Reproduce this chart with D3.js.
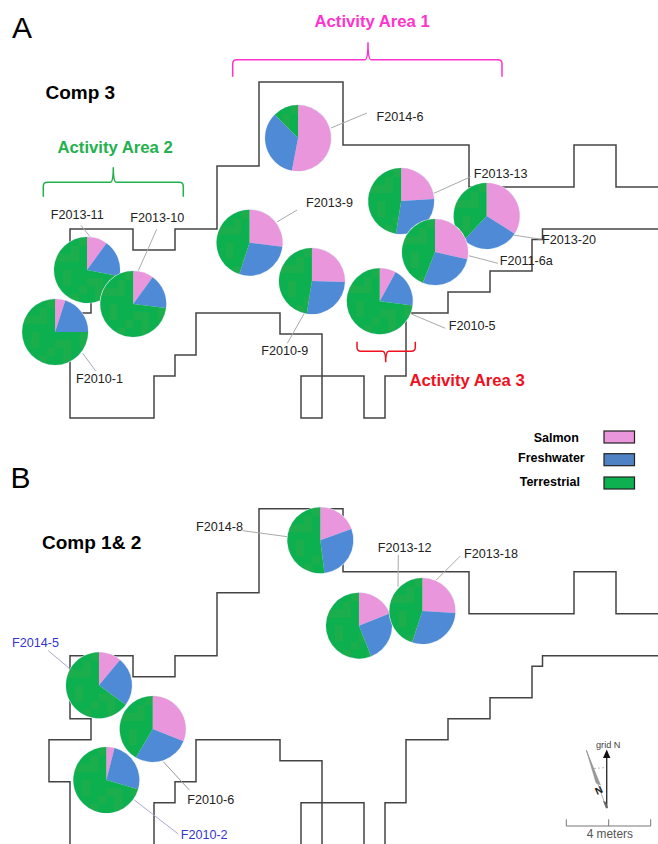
<!DOCTYPE html>
<html>
<head>
<meta charset="utf-8">
<script src="https://cdn.jsdelivr.net/npm/d3@7"></script>
<style>
    html, body { margin: 0; padding: 0; background: #fff; }
    svg { display: block; }
    text { font-family: "Liberation Sans", Arial, sans-serif; }
</style>
</head>
<body>
<div id="chart"></div>
<script>
// diet fractions per feature (percent)
var categories = ['Salmon', 'Freshwater', 'Terrestrial'];

var sitesA = ['F2013-11', 'F2013-10', 'F2010-1', 'F2014-6', 'F2013-9', 'F2010-9', 'F2013-13', 'F2013-20', 'F2011-6a', 'F2010-5'];
var salmonA = [10, 10, 5, 53, 27, 25.5, 24, 34, 28.5, 8];
var freshA = [18, 17, 20, 34.5, 28, 27, 28.5, 28, 27.5, 19];
var terrA = [72, 73, 75, 12.5, 45, 47.5, 47.5, 38, 44, 73];
// feature location on the excavation grid, metres
var gridXA = [0.81, 3.01, -0.71, 10.86, 8.55, 11.52, 15.77, 19.84, 17.38, 14.75];
var gridYA = [1.95, 3.57, 4.90, -4.33, 0.65, 2.48, -1.33, -0.62, 1.10, 3.44];

var sitesB = ['F2014-8', 'F2013-12', 'F2013-18', 'F2014-5', 'F2010-6', 'F2010-2'];
var salmonB = [19.5, 19, 26, 11, 31, 4];
var freshB = [28.5, 25, 29, 24, 27.5, 25.5];
var terrB = [52, 56, 45, 65, 41.5, 70.5];
var gridXB = [11.92, 13.76, 16.78, 1.38, 3.94, 1.73];
var gridYB = [-5.5, -1.43, -2.13, 1.41, 3.49, 5.92];

// house outline in grid metres
var wallX = [28, 26, 26, 24, 24, 19, 19, 13, 13, 9, 9, 7, 7, 5, 5, 3, 3, 0, 0, 1, 1, -1, -1, 0, 0, 4, 4, 5, 5, 6, 6, 10, 10, 12, 12, 11, 11, 14, 14, 15, 15, 16, 16, 18, 18, 20, 20, 22, 22, 22.5, 22.5, 28];
var wallY = [-2, -2, -4, -4, -2, -2, -4, -4, -7, -7, -3, -3, 0, 0, 1, 1, 0, 0, 3, 3, 4, 4, 6, 6, 9, 9, 7, 7, 6, 6, 4, 4, 5, 5, 9, 9, 7, 7, 9, 9, 7, 7, 4, 4, 3, 3, 2, 2, 0.5, 0.5, 0, 0];

var width = 658, height = 844;
var pieR = 33;
var panelShift = 426.7;

var colors = d3.scaleOrdinal().domain(categories).range(['#ea96dc', '#4f8ad6', 'url(#mottle)']);
var swatch = d3.scaleOrdinal().domain(categories).range(['#ea96dc', '#4f82c4', '#0db14f']);

var x = d3.scaleLinear().domain([0, 28]).range([70, 658]);
var y = d3.scaleLinear().domain([0, 9]).range([229, 418]);

var svg = d3.select('#chart').append('svg')
    .attr('width', width)
    .attr('height', height)
    .attr('viewBox', '0 0 ' + width + ' ' + height);

// blocky green left over from the jpeg of the original
var defs = svg.append('defs');
var mottle = defs.append('pattern')
    .attr('id', 'mottle')
    .attr('patternUnits', 'userSpaceOnUse')
    .attr('width', 48).attr('height', 48);
mottle.append('rect').attr('width', 48).attr('height', 48).attr('fill', '#0cb04e');
[[0, 8, 16, 8], [8, 16, 8, 16], [24, 0, 8, 16], [16, 32, 24, 8], [40, 16, 8, 8], [32, 24, 8, 8], [0, 40, 8, 8]].forEach(function (b) {
    mottle.append('rect')
        .attr('x', b[0]).attr('y', b[1])
        .attr('width', b[2]).attr('height', b[3])
        .attr('fill', '#1cad4c');
});

// Draw the stepped outline of the house
function addWall(parent, shift) {
    var line = d3.line()
        .x(function (d) { return x(d[0]); })
        .y(function (d) { return y(d[1]) + shift; })
        .curve(d3.curveLinear);
    parent.append('path')
        .attr('d', line(d3.zip(wallX, wallY)))
        .attr('fill', 'none')
        .attr('stroke', '#444')
        .attr('stroke-width', 1.5);
}

// One pie per feature, 12 o'clock start, no sorting
function addPies(parent, shift, sites, salmon, fresh, terr, gridX, gridY) {
    var pie = d3.pie().sort(null).value(function (d) { return d.value; });
    var arc = d3.arc().innerRadius(0).outerRadius(pieR);
    sites.forEach(function (name, i) {
        var parts = [
            { key: categories[0], value: salmon[i] },
            { key: categories[1], value: fresh[i] },
            { key: categories[2], value: terr[i] }
        ];
        var g = parent.append('g')
            .attr('class', 'pie')
            .attr('transform', 'translate(' + x(gridX[i]) + ',' + (y(gridY[i]) + shift) + ')');
        g.append('circle').attr('r', pieR + 0.6).attr('fill', '#e4ecf6');
        g.selectAll('path')
            .data(pie(parts))
            .enter().append('path')
            .attr('d', arc)
            .attr('fill', function (d) { return colors(d.data.key); });
    });
}

// Label with its thin leader line
function addLabel(name, lx, ly, leader, color, lineColor) {
    svg.append('line')
        .attr('x1', leader[0]).attr('y1', leader[1])
        .attr('x2', leader[2]).attr('y2', leader[3])
        .attr('stroke', lineColor || '#aaa')
        .attr('stroke-width', 1);
    svg.append('text')
        .attr('x', lx).attr('y', ly)
        .attr('font-size', 12.6)
        .attr('fill', color || '#222')
        .text(name);
}

// Curly bracket, rounded ends and a small tip in the middle
function addBrace(x0, x1, xm, yEnd, yLine, yTip, color) {
    var s = yEnd < yLine ? -1 : 1;
    var p = d3.path();
    p.moveTo(x0, yEnd);
    p.lineTo(x0, yLine + s * 4);
    p.quadraticCurveTo(x0, yLine, x0 + 4, yLine);
    p.lineTo(xm - 3, yLine);
    p.quadraticCurveTo(xm, yLine, xm, yTip);
    p.quadraticCurveTo(xm, yLine, xm + 3, yLine);
    p.lineTo(x1 - 4, yLine);
    p.quadraticCurveTo(x1, yLine, x1, yLine + s * 4);
    p.lineTo(x1, yEnd);
    svg.append('path')
        .attr('d', p.toString())
        .attr('fill', 'none')
        .attr('stroke', color)
        .attr('stroke-width', 1.5);
}

function addTitle(str, tx, ty, size, color, weight) {
    svg.append('text')
        .attr('x', tx).attr('y', ty)
        .attr('font-size', size)
        .attr('font-weight', weight || 'bold')
        .attr('fill', color || '#000')
        .text(str);
}

addWall(svg, 0);
addWall(svg, panelShift);

// leaders first, the pies sit on top of them
addLabel('F2014-6', 376.5, 120.5, [331, 128, 367, 113]);
addLabel('F2013-9', 306, 207, [277, 222, 297, 210]);
addLabel('F2013-13', 473.7, 177.5, [434, 193.3, 470.7, 176.7]);
addLabel('F2013-20', 542, 244, [513, 235, 541.3, 239.3]);
addLabel('F2011-6a', 499.7, 265, [468.7, 255.7, 498, 263.3]);
addLabel('F2010-5', 448.7, 330, [411.3, 314, 445.3, 328.3]);
addLabel('F2010-9', 261.3, 355.3, [304.3, 313.3, 287.3, 343.3]);
addLabel('F2013-11', 50.7, 219.3, [81, 225.3, 90, 236.7]);
addLabel('F2013-10', 130.3, 222, [156.7, 229.3, 138.3, 270.7]);
addLabel('F2010-1', 76, 383, [82.7, 353.3, 95.7, 371], '#222', '#a8a8c0');

addLabel('F2014-8', 196, 531.3, [242.7, 530.7, 287.3, 536.7]);
addLabel('F2013-12', 377.7, 552, [398.3, 555, 398, 586.7]);
addLabel('F2013-18', 464, 558.3, [460.3, 556, 436.3, 580]);
addLabel('F2014-5', 12, 647.3, [48.3, 650.7, 69.3, 668.3], '#3535cf', '#a8a8d0');
addLabel('F2010-6', 187.3, 804, [163.3, 761.7, 189.3, 790], '#222', '#999');
addLabel('F2010-2', 180.7, 839.3, [134.3, 800, 178.3, 834], '#3535cf', '#a8a8d8');

addPies(svg, 0, sitesA, salmonA, freshA, terrA, gridXA, gridYA);
addPies(svg, panelShift, sitesB, salmonB, freshB, terrB, gridXB, gridYB);

addTitle('A', 12, 37.7, 30, '#000', 'normal');
addTitle('B', 10.5, 488, 30, '#000', 'normal');
addTitle('Comp 3', 45.5, 99, 19);
addTitle('Comp 1& 2', 42, 549.3, 19);

addTitle('Activity Area 1', 314.5, 27, 16.7, '#ff33cc');
addTitle('Activity Area 2', 57.5, 153.3, 16.7, '#22b14c');
addTitle('Activity Area 3', 409.5, 385.7, 16.7, '#f01020');

addBrace(232.7, 502, 368, 76.7, 59.7, 42.3, '#ff33cc');
addBrace(43.3, 183.3, 113.3, 196.7, 182.3, 167.3, '#22b14c');
addBrace(357, 415.3, 385.7, 341.7, 351.3, 362.3, '#f01020');

// legend
var legendTextX = [533.7, 518, 519.7];
var legendTextY = [442.3, 462.3, 486];
var legendBoxY = [431, 453.7, 477];
categories.forEach(function (c, i) {
    addTitle(c, legendTextX[i], legendTextY[i], 12.5);
    svg.append('rect')
        .attr('x', 604).attr('y', legendBoxY[i])
        .attr('width', 30.5).attr('height', 12)
        .attr('fill', swatch(c))
        .attr('stroke', '#222')
        .attr('stroke-width', 1.2);
});

// north arrow and scale bar
var north = svg.append('g');
north.append('line')
    .attr('x1', 606.7).attr('y1', 808.3)
    .attr('x2', 606.7).attr('y2', 756)
    .attr('stroke', '#333').attr('stroke-width', 1.4);
north.append('path')
    .attr('d', 'M606.7,749.5L603,758L610.4,758Z')
    .attr('fill', '#111');
north.append('path')
    .attr('d', 'M586.3,750L600.5,785L596,783Z')
    .attr('fill', '#999').attr('stroke', '#888').attr('stroke-width', 0.4);
north.append('line')
    .attr('x1', 586.3).attr('y1', 750)
    .attr('x2', 606.3).attr('y2', 808)
    .attr('stroke', '#999').attr('stroke-width', 0.8);
north.append('line')
    .attr('x1', 594).attr('y1', 768.5)
    .attr('x2', 606).attr('y2', 767.5)
    .attr('stroke', '#aaa').attr('stroke-dasharray', '2,2').attr('stroke-width', 0.8);
north.append('path')
    .attr('d', 'M603,801L606,808L608,808L606,802Z')
    .attr('fill', '#666');
north.append('text')
    .attr('transform', 'translate(597,795) rotate(-25)')
    .attr('font-family', 'Liberation Serif')
    .attr('font-weight', 'bold')
    .attr('font-size', 10)
    .attr('fill', '#222')
    .text('N');
north.append('text')
    .attr('x', 596).attr('y', 748.3)
    .attr('font-size', 9.2)
    .attr('fill', '#444')
    .text('grid N');

var bar = d3.path();
bar.moveTo(566.3, 819.3); bar.lineTo(566.3, 826); bar.lineTo(650.7, 826); bar.lineTo(650.7, 819.3);
bar.moveTo(608.7, 819.3); bar.lineTo(608.7, 826);
svg.append('path')
    .attr('d', bar.toString())
    .attr('fill', 'none')
    .attr('stroke', '#777')
    .attr('stroke-width', 1);
svg.append('text')
    .attr('x', 586.7).attr('y', 838)
    .attr('font-size', 11.9)
    .attr('fill', '#555')
    .text('4 meters');
</script>
</body>
</html>
